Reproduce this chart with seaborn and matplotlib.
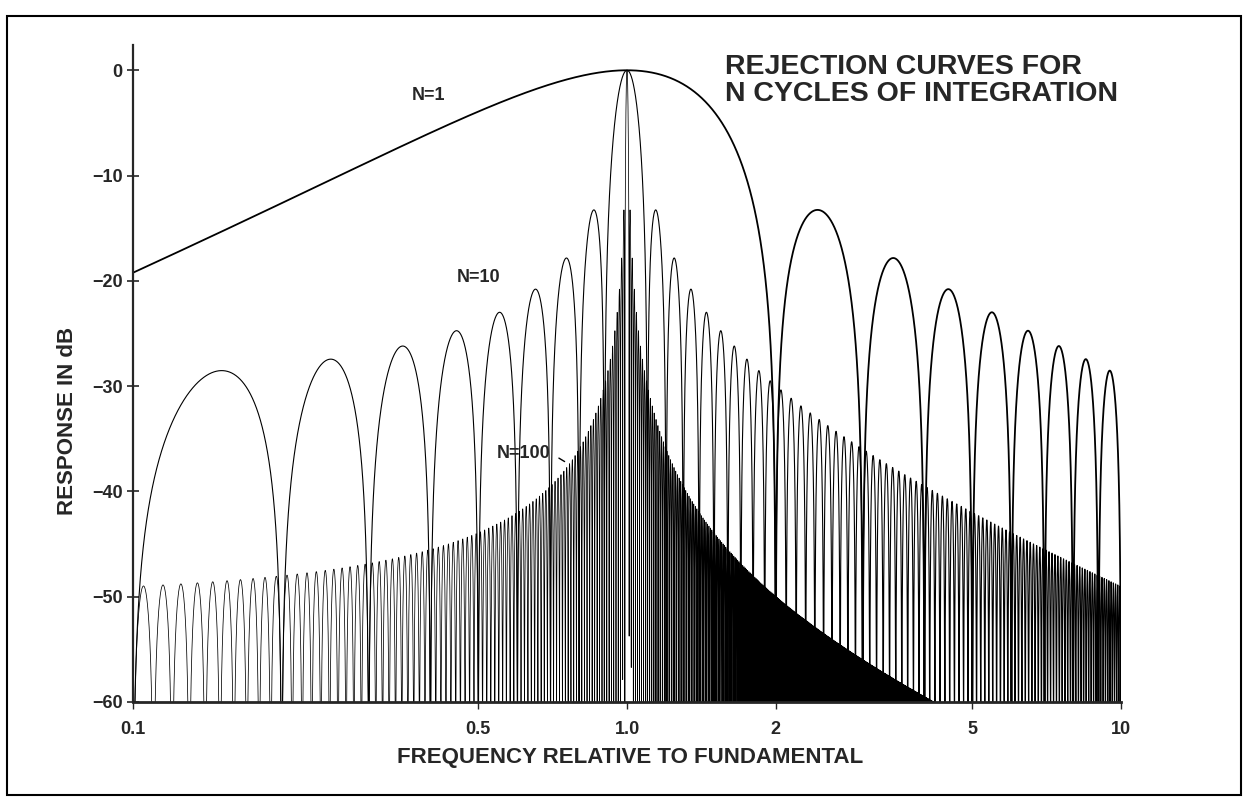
import numpy as np
import pandas as pd
import matplotlib.pyplot as plt
from matplotlib.patches import Rectangle
import seaborn as sns

# Curve parameters and axis texts
cycles = [1, 10, 100]
curve_labels = ["N=1", "N=10", "N=100"]
line_widths = [1.3, 0.8, 0.55]
label_freq = [0.366, 0.452, 0.545]
label_db = [-2.4, -19.7, -36.4]
x_ticks = [0.1, 0.5, 1.0, 2, 5, 10]
x_tick_labels = ["0.1", "0.5", "1.0", "2", "5", "10"]
y_ticks = [0, -10, -20, -30, -40, -50, -60]

sns.set_style("ticks")
plt.rcParams['font.family'] = ['Liberation Sans', 'DejaVu Sans']
plt.rcParams['font.weight'] = 'bold'

# Response of an integrator over N cycles of the fundamental
freq = np.geomspace(0.1, 10, 80000)
frames = []
for n in cycles:
    r = np.abs(np.sinc(n * (freq - 1.0)))
    db = np.clip(20 * np.log10(np.maximum(r, 1e-6)), -62, None)
    frames.append(pd.DataFrame({"freq": freq, "response": db, "N": n}))
df = pd.concat(frames, ignore_index=True)

fig = plt.figure(figsize=(12.48, 8), dpi=100)
ax = fig.add_axes([133 / 1248, 1 - 702 / 800, (1121 - 133) / 1248, (702 - 45) / 800])

# draw the dense curves first so N=1 ends up on top
for n, lw in sorted(zip(cycles, line_widths), reverse=True):
    sns.lineplot(data=df[df["N"] == n], x="freq", y="response", color="black",
                 linewidth=lw, estimator=None, sort=False, ax=ax)

ax.set_xscale("log")
ax.set_xlim(0.1, 10)
ax.set_ylim(-60, 2.4)
ax.set_xticks(x_ticks)
ax.set_xticklabels(x_tick_labels)
ax.xaxis.set_minor_locator(plt.NullLocator())
ax.set_yticks(y_ticks)
ax.set_yticklabels([str(v).replace("-", "\u2212") for v in y_ticks])
ax.tick_params(axis="y", direction="inout", length=9, width=1.2, pad=3, labelsize=13)
ax.tick_params(axis="x", direction="out", length=5, width=1.0, pad=9, labelsize=13)
sns.despine(ax=ax)
ax.spines["left"].set_linewidth(1.6)
ax.spines["bottom"].set_linewidth(2.0)

ax.set_xlabel("FREQUENCY RELATIVE TO FUNDAMENTAL", fontsize=16, fontweight="bold")
ax.xaxis.set_label_coords(0.503, -0.085)
ax.xaxis.label.set_va("center")
ax.set_ylabel("RESPONSE IN dB", fontsize=16, fontweight="bold")
ax.yaxis.set_label_coords(-0.066, 0.428)
ax.yaxis.label.set_va("center")

for lab, fx, fy in zip(curve_labels, label_freq, label_db):
    ax.text(fx, fy, lab, fontsize=13, fontweight="bold", ha="left", va="center")
# small leader from the N=100 label
ax.annotate("", xy=(0.756, -37.3), xytext=(0.72, -36.7),
            arrowprops=dict(arrowstyle="-", lw=1.0, color="black"))

fig.text(725 / 1248, 1 - 74 / 800, "REJECTION CURVES FOR", fontsize=20.5,
         fontweight="bold", ha="left", va="baseline")
fig.text(725 / 1248, 1 - 101 / 800, "N CYCLES OF INTEGRATION", fontsize=20.5,
         fontweight="bold", ha="left", va="baseline")

# scanned page border
fig.patches.append(Rectangle((7 / 1248, 1 - 795 / 800), (1241 - 7) / 1248, (795 - 16) / 800,
                             transform=fig.transFigure, fill=False, lw=1.5, ec="black"))

fig.savefig("out.png", dpi=100)
